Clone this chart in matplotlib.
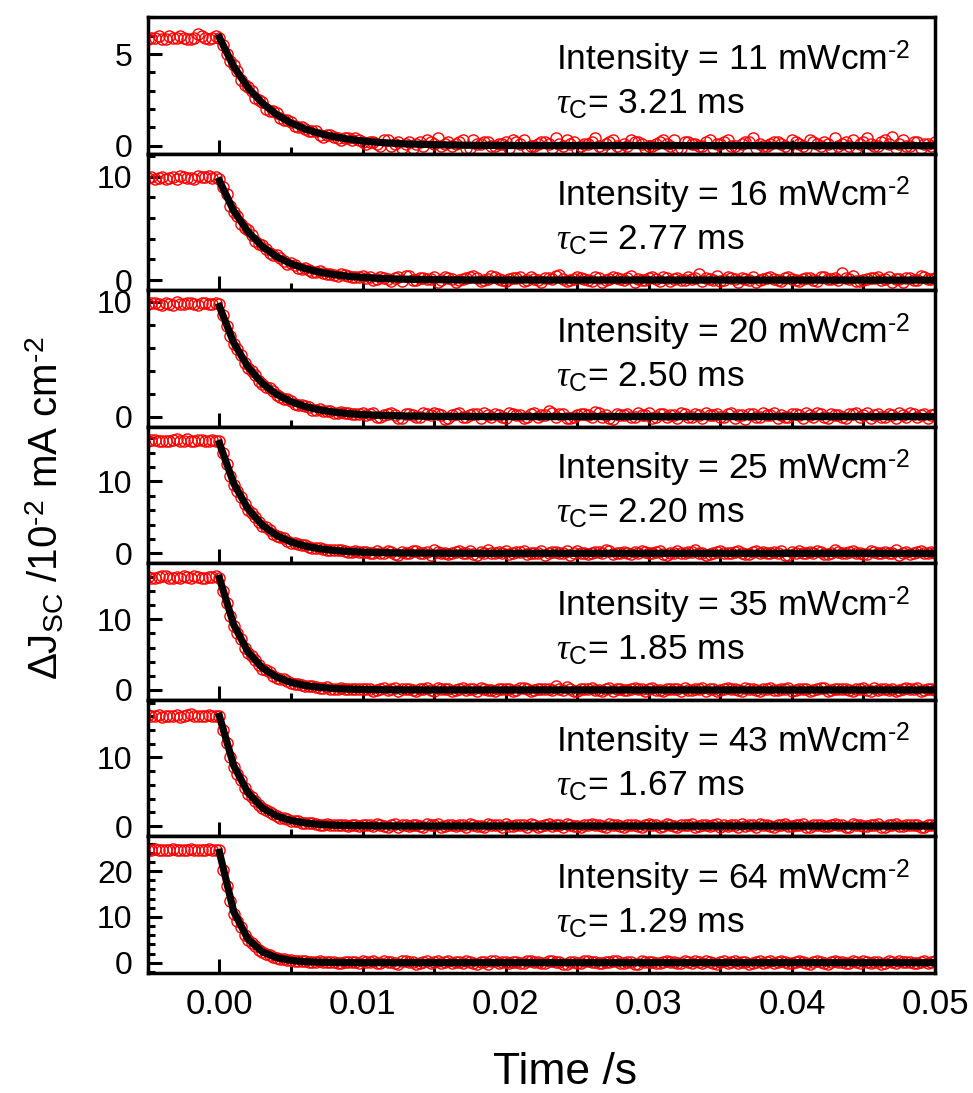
import numpy as np
import matplotlib
matplotlib.use('Agg')
import matplotlib.pyplot as plt
from matplotlib.ticker import MultipleLocator, FixedLocator

plt.rcParams['font.family'] = ['Liberation Sans', 'DejaVu Sans']
plt.rcParams['mathtext.fontset'] = 'custom'
plt.rcParams['mathtext.rm'] = 'Liberation Sans'
plt.rcParams['mathtext.it'] = 'Liberation Serif:italic'

# time grid of the measured transients (s): main samples and in-between samples
t = np.linspace(-0.005, 0.05, 111)
t_mid = t[:-1] + 0.00025
# time grid of the fitted curves (s)
t_fit = np.append(np.linspace(0, 0.02, 21), 0.05)

intensity = [11, 16, 20, 25, 35, 43, 64]
tau_c = ['3.21', '2.77', '2.50', '2.20', '1.85', '1.67', '1.29']

# measured dJsc, 10^-2 mA cm^-2, at t
j1 = [5.8, 5.9, 5.8, 6.0, 5.9, 5.9, 5.8, 6.1, 5.9, 5.9,
      5.9, 5.0, 4.4, 3.6, 3.2, 2.6, 2.4, 1.9, 1.8, 1.4, 1.3, 1.0, 0.9, 0.8, 0.6, 0.6, 0.5, 0.3, 0.4, 0.4, 0.2,
      0.2, 0.1, 0.3, 0.0, 0.2, 0.1, -0.1, 0.2, 0.3, 0.1, 0.0, 0.2, 0.1, 0.3, -0.1, 0.1, 0.2, 0.0, 0.1, 0.2,
      0.3, 0.1, -0.1, 0.0, 0.2, 0.1, 0.4, 0.0, 0.1, -0.2, 0.1, 0.2, 0.0, 0.1, 0.3, -0.1, 0.0, 0.2, 0.1, 0.0,
      0.1, 0.3, 0.0, -0.1, 0.2, 0.1, 0.0, 0.2, -0.1, 0.1, 0.3, 0.0, 0.1, 0.2, -0.1, 0.0, 0.1, 0.2, 0.0, 0.3,
      0.1, -0.1, 0.2, 0.0, 0.1, 0.4, 0.1, 0.0, -0.1, 0.2, 0.1, 0.0, 0.3, 0.5, 0.1, 0.0, 0.2, -0.1, 0.1, 0.2]
j2 = [9.9, 9.8, 10.0, 9.9, 9.8, 10.0, 9.9, 10.1, 10.0, 9.9,
      9.8, 8.3, 6.6, 5.4, 4.8, 3.8, 3.4, 2.6, 2.4, 1.8, 1.7, 1.2, 1.2, 0.8, 0.9, 0.6, 0.5, 0.6, 0.4, 0.3, 0.4,
      0.3, 0.1, 0.2, -0.1, 0.3, 0.4, 0.0, 0.2, 0.1, 0.3, 0.0, 0.2, -0.2, 0.1, 0.3, 0.2, 0.0, 0.4, 0.1, -0.1,
      0.2, 0.3, 0.0, 0.1, -0.2, 0.2, 0.4, 0.1, 0.0, 0.3, 0.1, -0.1, 0.2, 0.0, 0.3, 0.1, 0.2, -0.2, 0.0, 0.2,
      0.1, 0.3, -0.1, 0.2, 0.0, 0.1, 0.6, 0.2, 0.0, -0.1, 0.3, 0.1, 0.2, 0.0, -0.2, 0.1, 0.3, 0.0, 0.2, 0.1,
      -0.1, 0.2, 0.0, 0.3, 0.1, 0.2, 0.7, 0.1, -0.1, 0.0, 0.2, 0.3, 0.1, -0.2, 0.1, 0.2, 0.0, 0.4, 0.1, 0.2]
j3 = [9.8, 9.9, 9.7, 9.8, 10.0, 9.8, 9.9, 9.7, 9.9, 9.8,
      9.8, 7.9, 6.3, 5.4, 4.2, 3.6, 2.8, 2.5, 1.9, 1.5, 1.4, 1.0, 0.9, 0.6, 0.7, 0.5, 0.3, 0.4, 0.3, 0.2, 0.3,
      0.2, 0.0, 0.1, 0.3, -0.1, 0.2, 0.1, 0.0, 0.2, 0.3, 0.1, -0.1, 0.2, 0.0, 0.1, 0.2, 0.3, 0.0, 0.1, -0.1,
      0.2, 0.1, 0.0, 0.3, 0.1, 0.5, 0.0, 0.2, -0.1, 0.1, 0.2, 0.0, 0.3, 0.1, -0.2, 0.1, 0.2, 0.0, 0.1, 0.3,
      0.0, 0.2, 0.1, -0.1, 0.2, 0.0, 0.1, 0.3, 0.1, 0.0, 0.2, -0.1, 0.1, 0.2, 0.0, 0.3, 0.1, -0.1, 0.0, 0.2,
      0.1, 0.3, 0.0, 0.2, -0.1, 0.1, 0.0, 0.2, 0.3, 0.1, -0.1, 0.2, 0.0, 0.1, 0.3, 0.0, 0.2, 0.1, -0.1, 0.2]
j4 = [15.7, 15.8, 15.6, 15.7, 15.9, 15.7, 15.6, 15.8, 15.7, 15.8,
      15.6, 12.4, 9.5, 7.9, 6.0, 5.1, 3.8, 3.3, 2.4, 2.1, 1.5, 1.3, 1.1, 0.7, 0.8, 0.5, 0.4, 0.5, 0.2, 0.3, 0.2,
      0.1, 0.3, 0.0, 0.2, -0.2, 0.1, 0.3, 0.0, 0.2, 0.4, 0.0, -0.1, 0.2, 0.1, 0.3, -0.2, 0.1, 0.0, 0.2, 0.3,
      0.0, 0.2, -0.1, 0.1, 0.3, 0.0, 0.2, 0.1, -0.2, 0.3, 0.1, 0.0, 0.2, 0.4, -0.1, 0.1, 0.0, 0.2, 0.3, 0.0,
      0.2, -0.1, 0.1, 0.3, 0.0, 0.2, 0.1, -0.2, 0.1, 0.3, 0.0, 0.2, 0.1, -0.1, 0.3, 0.2, 0.0, 0.1, -0.2, 0.2,
      0.3, 0.0, 0.1, 0.2, -0.1, 0.4, 0.0, 0.2, 0.1, -0.1, 0.3, 0.0, 0.2, 0.1, -0.2, 0.2, 0.0, 0.3, 0.1, 0.0]
j5 = [16.0, 15.9, 16.1, 15.8, 16.0, 16.1, 15.9, 16.0, 15.8, 16.0,
      15.9, 12.3, 9.0, 7.2, 5.2, 4.2, 3.0, 2.5, 1.7, 1.5, 1.0, 0.9, 0.5, 0.6, 0.3, 0.4, 0.2, 0.3, 0.1, 0.2, 0.1,
      0.2, 0.0, 0.3, 0.1, -0.1, 0.2, 0.0, 0.1, 0.3, -0.2, 0.1, 0.2, 0.0, 0.3, 0.1, -0.1, 0.2, 0.0, 0.1, 0.2,
      -0.1, 0.3, 0.1, 0.0, 0.2, 0.1, 0.5, 0.0, 0.2, -0.1, 0.1, 0.3, 0.0, 0.2, -0.2, 0.1, 0.0, 0.3, 0.1, 0.2,
      0.0, -0.1, 0.2, 0.1, 0.3, 0.0, 0.1, -0.2, 0.2, 0.0, 0.3, 0.1, -0.1, 0.2, 0.0, 0.1, 0.3, 0.0, 0.2, -0.1,
      0.1, 0.2, 0.0, 0.3, -0.1, 0.1, 0.2, 0.0, 0.1, 0.3, -0.2, 0.0, 0.2, 0.1, 0.0, 0.3, 0.1, -0.1, 0.2, 0.0]
j6 = [16.2, 16.0, 15.9, 16.1, 16.2, 16.0, 16.3, 16.1, 16.0, 16.1,
      16.0, 12.1, 8.6, 6.7, 4.7, 3.7, 2.6, 2.1, 1.4, 1.2, 0.7, 0.7, 0.4, 0.4, 0.2, 0.3, 0.1, 0.2, 0.0, 0.1, 0.2,
      0.1, 0.3, 0.0, 0.2, -0.1, 0.1, 0.2, 0.0, 0.3, 0.1, -0.2, 0.2, 0.0, 0.1, 0.3, 0.0, -0.1, 0.2, 0.1, 0.3,
      0.0, 0.2, -0.1, 0.1, 0.0, 0.3, 0.2, -0.2, 0.1, 0.0, 0.2, 0.3, 0.1, -0.1, 0.2, 0.0, 0.1, 0.2, -0.1, 0.3,
      0.1, 0.0, 0.2, -0.2, 0.1, 0.3, 0.0, 0.2, 0.1, -0.1, 0.0, 0.2, 0.3, 0.1, -0.1, 0.2, 0.0, 0.1, 0.3, 0.0,
      0.2, -0.1, 0.1, 0.2, 0.0, 0.3, 0.1, -0.2, 0.2, 0.0, 0.1, 0.3, -0.1, 0.2, 0.0, 0.1, 0.2, -0.1, 0.1, 0.2]
j7 = [24.6, 24.8, 24.5, 24.7, 24.6, 24.5, 24.8, 24.6, 24.7, 24.5,
      24.6, 16.8, 10.7, 7.8, 5.0, 3.6, 2.3, 1.7, 1.0, 0.8, 0.6, 0.3, 0.4, 0.2, 0.3, 0.1, 0.2, 0.0, 0.2, 0.1, 0.3,
      0.2, 0.0, 0.4, 0.1, -0.2, 0.3, 0.1, 0.0, 0.3, 0.2, -0.1, 0.4, 0.1, 0.0, 0.2, -0.3, 0.1, 0.3, 0.0, 0.2,
      0.1, -0.1, 0.3, 0.2, 0.0, 0.4, 0.1, -0.2, 0.2, 0.0, 0.3, 0.1, -0.1, 0.2, 0.4, 0.0, 0.1, -0.2, 0.3, 0.1,
      0.0, 0.2, 0.1, -0.1, 0.3, 0.0, 0.2, 0.4, -0.1, 0.1, 0.0, 0.3, 0.2, -0.2, 0.1, 0.0, 0.3, 0.1, 0.2, -0.1,
      0.3, 0.0, 0.1, 0.2, -0.2, 0.4, 0.1, 0.0, 0.2, 0.3, -0.1, 0.1, 0.0, 0.2, 0.3, 0.1, -0.1, 0.2, 0.0, 0.3]

# measured dJsc at t_mid
m1 = [5.9, 6.0, 5.8, 5.9, 6.0, 5.8, 5.9, 6.0, 5.8, 6.0,
      5.5, 4.6, 4.1, 3.3, 3.0, 2.5, 2.0, 1.9, 1.5, 1.4, 1.1, 1.0, 0.8, 0.8, 0.5, 0.6, 0.4, 0.4, 0.3, 0.3,
      0.1, 0.2, 0.0, 0.3, 0.1, -0.1, 0.2, 0.1, 0.0, 0.2, 0.4, 0.1, 0.0, 0.2, -0.1, 0.3, 0.1, 0.2, 0.0, 0.1,
      -0.1, 0.2, 0.3, 0.0, 0.1, 0.2, -0.1, 0.1, 0.3, 0.2, 0.0, 0.1, 0.4, -0.1, 0.2, 0.0, 0.1, 0.3, 0.2, -0.1,
      0.0, 0.2, 0.1, 0.3, -0.1, 0.2, 0.1, 0.0, 0.3, 0.1, 0.2, 0.0, -0.1, 0.2, 0.4, 0.1, 0.0, 0.2, 0.1, -0.1,
      0.2, 0.0, 0.3, 0.1, 0.2, -0.1, 0.0, 0.2, 0.3, 0.1, 0.4, 0.0, 0.2, 0.1, -0.1, 0.3, 0.0, 0.2, 0.1, 0.0]
m2 = [10.0, 9.9, 9.8, 10.0, 10.1, 9.9, 9.8, 10.0, 10.1, 10.0,
      9.0, 7.2, 6.2, 5.0, 4.4, 3.5, 3.0, 2.4, 2.1, 1.6, 1.5, 1.1, 1.0, 0.8, 0.7, 0.6, 0.4, 0.5, 0.3, 0.3,
      0.2, 0.0, 0.3, 0.1, 0.2, -0.1, 0.4, 0.0, 0.2, 0.1, -0.2, 0.3, 0.1, 0.0, 0.2, 0.4, -0.1, 0.1, 0.3, 0.0,
      0.1, 0.2, -0.1, 0.3, 0.0, 0.2, 0.1, 0.5, -0.1, 0.1, 0.2, 0.0, 0.3, -0.2, 0.1, 0.2, 0.0, 0.4, 0.1, 0.0,
      0.3, -0.1, 0.2, 0.1, 0.0, 0.3, 0.2, -0.1, 0.1, 0.4, 0.0, 0.2, -0.2, 0.1, 0.3, 0.0, 0.2, 0.1, -0.1, 0.3,
      0.0, 0.1, 0.2, -0.1, 0.3, 0.1, 0.0, 0.2, 0.4, -0.1, 0.1, 0.2, 0.0, 0.3, 0.1, -0.2, 0.2, 0.0, 0.3, 0.1]
m3 = [9.9, 9.8, 9.9, 9.7, 9.8, 9.9, 9.8, 9.9, 9.8, 9.9,
      8.9, 7.0, 5.9, 4.7, 4.0, 3.1, 2.6, 2.2, 1.7, 1.5, 1.1, 1.0, 0.8, 0.6, 0.5, 0.5, 0.3, 0.3, 0.2, 0.2,
      0.1, 0.3, 0.0, 0.2, 0.1, -0.1, 0.2, 0.0, 0.3, 0.1, 0.2, -0.2, 0.1, 0.3, 0.0, 0.2, -0.1, 0.1, 0.2, 0.0,
      0.3, 0.1, -0.1, 0.2, 0.0, 0.1, 0.3, 0.2, -0.1, 0.0, 0.2, 0.1, 0.4, 0.0, -0.1, 0.2, 0.1, 0.0, 0.3, 0.1,
      -0.1, 0.2, 0.0, 0.1, 0.3, 0.0, 0.2, -0.1, 0.1, 0.2, 0.0, 0.3, 0.1, -0.2, 0.2, 0.0, 0.1, 0.3, 0.1, 0.0,
      0.2, -0.1, 0.1, 0.3, 0.0, 0.2, 0.1, -0.1, 0.2, 0.0, 0.3, 0.1, 0.0, 0.2, -0.1, 0.1, 0.3, 0.0, 0.2, 0.1]
m4 = [15.8, 15.7, 15.6, 15.8, 15.7, 15.9, 15.7, 15.8, 15.6, 15.7,
      13.9, 10.8, 8.7, 6.8, 5.6, 4.3, 3.6, 2.7, 2.3, 1.7, 1.4, 1.2, 0.9, 0.7, 0.6, 0.4, 0.4, 0.3, 0.2, 0.2,
      0.2, 0.0, 0.1, 0.3, -0.1, 0.2, 0.0, 0.3, 0.1, -0.2, 0.2, 0.0, 0.1, 0.3, 0.1, -0.1, 0.2, 0.4, 0.0, 0.1,
      -0.1, 0.2, 0.3, 0.0, 0.1, -0.2, 0.2, 0.1, 0.3, 0.0, 0.1, -0.1, 0.2, 0.0, 0.3, 0.1, 0.2, -0.1, 0.0, 0.2,
      0.1, 0.3, -0.2, 0.1, 0.0, 0.2, 0.4, 0.1, -0.1, 0.2, 0.0, 0.1, 0.3, -0.1, 0.2, 0.0, 0.1, 0.2, 0.3, -0.2,
      0.1, 0.0, 0.2, 0.3, -0.1, 0.1, 0.2, 0.0, 0.3, 0.1, -0.1, 0.2, 0.0, 0.1, 0.4, 0.0, -0.1, 0.2, 0.1, 0.2]
m5 = [15.9, 16.0, 16.1, 15.9, 15.8, 16.0, 16.1, 15.9, 16.0, 16.1,
      14.0, 10.4, 8.1, 6.0, 4.8, 3.5, 2.8, 2.0, 1.6, 1.2, 0.9, 0.7, 0.5, 0.4, 0.3, 0.2, 0.2, 0.1, 0.1, 0.1,
      0.1, -0.1, 0.2, 0.0, 0.3, 0.1, 0.2, -0.2, 0.1, 0.0, 0.3, 0.2, -0.1, 0.1, 0.0, 0.2, 0.3, 0.0, -0.1, 0.2,
      0.1, 0.0, 0.3, -0.1, 0.2, 0.1, 0.0, 0.2, 0.4, -0.1, 0.1, 0.2, 0.0, -0.2, 0.3, 0.1, 0.0, 0.2, 0.1, -0.1,
      0.3, 0.0, 0.2, 0.1, -0.1, 0.0, 0.2, 0.3, 0.1, -0.2, 0.1, 0.2, 0.0, 0.3, 0.1, -0.1, 0.2, 0.0, 0.1, 0.3,
      0.0, 0.2, -0.1, 0.1, 0.3, 0.0, 0.2, 0.1, -0.1, 0.2, 0.0, 0.3, 0.1, 0.0, -0.2, 0.2, 0.1, 0.3, 0.0, 0.1]
m6 = [16.1, 16.2, 16.0, 16.1, 15.9, 16.2, 16.1, 16.0, 16.2, 16.1,
      14.0, 10.1, 7.6, 5.5, 4.2, 3.0, 2.3, 1.7, 1.2, 1.0, 0.7, 0.5, 0.4, 0.3, 0.2, 0.2, 0.1, 0.1, 0.1, 0.0,
      0.2, 0.0, 0.1, -0.1, 0.3, 0.1, 0.0, 0.2, -0.2, 0.1, 0.3, 0.0, 0.2, 0.1, -0.1, 0.2, 0.0, 0.3, 0.1, -0.1,
      0.0, 0.2, 0.1, 0.3, -0.1, 0.2, 0.0, 0.1, 0.3, 0.0, -0.2, 0.2, 0.1, 0.0, 0.3, 0.1, -0.1, 0.2, 0.0, 0.1,
      0.2, -0.1, 0.3, 0.0, 0.1, 0.2, -0.2, 0.1, 0.0, 0.3, 0.1, 0.2, -0.1, 0.0, 0.2, 0.3, 0.1, -0.1, 0.2, 0.0,
      0.1, 0.3, -0.1, 0.2, 0.0, 0.1, 0.2, -0.2, 0.3, 0.1, 0.0, 0.2, -0.1, 0.1, 0.3, 0.0, 0.2, 0.1, -0.1, 0.2]
m7 = [24.7, 24.5, 24.6, 24.8, 24.6, 24.7, 24.5, 24.6, 24.8, 24.6,
      20.3, 13.4, 9.2, 6.1, 4.3, 2.8, 2.0, 1.3, 0.9, 0.6, 0.4, 0.3, 0.2, 0.2, 0.1, 0.1, 0.0, 0.1, 0.2, 0.0,
      0.1, 0.3, -0.1, 0.2, 0.0, 0.4, 0.1, -0.2, 0.2, 0.0, 0.3, 0.1, -0.1, 0.2, 0.4, 0.0, 0.1, -0.2, 0.3, 0.1,
      0.0, 0.2, -0.1, 0.3, 0.1, 0.0, 0.4, 0.2, -0.2, 0.1, 0.0, 0.3, 0.2, -0.1, 0.1, 0.3, 0.0, 0.2, -0.3, 0.1,
      0.2, 0.0, 0.3, 0.1, -0.1, 0.2, 0.4, 0.0, 0.1, -0.2, 0.3, 0.1, 0.0, 0.2, -0.1, 0.3, 0.1, 0.0, 0.4, -0.1,
      0.2, 0.1, -0.2, 0.3, 0.0, 0.2, 0.1, -0.1, 0.4, 0.0, 0.2, 0.1, -0.2, 0.3, 0.0, 0.1, 0.2, -0.1, 0.3, 0.1]

# fitted exponential decays, read at t_fit
f1 = [5.9, 4.32, 3.16, 2.32, 1.70, 1.24, 0.91, 0.67, 0.49, 0.36, 0.26,
      0.19, 0.14, 0.10, 0.08, 0.06, 0.04, 0.03, 0.02, 0.02, 0.01, 0.0]
f2 = [9.6, 6.69, 4.66, 3.25, 2.26, 1.58, 1.10, 0.77, 0.53, 0.37, 0.26,
      0.18, 0.13, 0.09, 0.06, 0.04, 0.03, 0.02, 0.01, 0.01, 0.01, 0.0]
f3 = [9.6, 6.43, 4.31, 2.89, 1.94, 1.30, 0.87, 0.58, 0.39, 0.26, 0.17,
      0.12, 0.08, 0.05, 0.04, 0.02, 0.02, 0.01, 0.01, 0.0, 0.0, 0.0]
f4 = [15.3, 9.71, 6.17, 3.91, 2.48, 1.58, 1.00, 0.64, 0.40, 0.26, 0.16,
      0.10, 0.07, 0.04, 0.03, 0.02, 0.01, 0.01, 0.0, 0.0, 0.0, 0.0]
f5 = [15.8, 9.20, 5.36, 3.12, 1.82, 1.06, 0.62, 0.36, 0.21, 0.12, 0.07,
      0.04, 0.02, 0.01, 0.01, 0.0, 0.0, 0.0, 0.0, 0.0, 0.0, 0.0]
f6 = [16.0, 8.79, 4.83, 2.65, 1.46, 0.80, 0.44, 0.24, 0.13, 0.07, 0.04,
      0.02, 0.01, 0.0, 0.0, 0.0, 0.0, 0.0, 0.0, 0.0, 0.0, 0.0]
f7 = [24.1, 11.10, 5.11, 2.36, 1.09, 0.50, 0.23, 0.11, 0.05, 0.02, 0.01,
      0.0, 0.0, 0.0, 0.0, 0.0, 0.0, 0.0, 0.0, 0.0, 0.0, 0.0]

data = [j1, j2, j3, j4, j5, j6, j7]
data_mid = [m1, m2, m3, m4, m5, m6, m7]
fits = [f1, f2, f3, f4, f5, f6, f7]

ylims = [(-0.45, 7.0), (-1.0, 12.2), (-0.9, 11.0), (-1.4, 17.6),
         (-1.4, 17.9), (-1.5, 18.4), (-2.2, 27.6)]
yticks = [[0, 5], [0, 10], [0, 10], [0, 10], [0, 10], [0, 10], [0, 10, 20]]
yminor = [1, 2, 2, 2, 2, 2, 2]

HY = '\u2010'  # short hyphen used in the superscripts

fig, axes = plt.subplots(7, 1, sharex=True, figsize=(9.73, 10.93), dpi=100,
                         gridspec_kw=dict(hspace=0))
fig.subplots_adjust(left=0.152, right=0.961, top=0.984, bottom=0.110)

for i, ax in enumerate(axes):
    tt = np.concatenate([t, t_mid])
    jj = np.concatenate([data[i], data_mid[i]])
    ax.plot(tt, jj, 'o', mfc='none', mec='red', ms=8, mew=1.0, zorder=2)
    ax.plot(t_fit, fits[i], '-', color='black', lw=5.2, zorder=3)
    ax.set_xlim(-0.005, 0.05)
    ax.set_ylim(*ylims[i])
    ax.yaxis.set_major_locator(FixedLocator(yticks[i]))
    ax.yaxis.set_minor_locator(MultipleLocator(yminor[i]))
    ax.xaxis.set_major_locator(MultipleLocator(0.01))
    ax.xaxis.set_minor_locator(MultipleLocator(0.005))
    for s in ax.spines.values():
        s.set_linewidth(2.5)
    ax.tick_params(which='both', direction='in', width=2.2, top=False, right=False)
    ax.tick_params(which='major', length=10)
    ax.tick_params(which='minor', length=5)
    ax.tick_params(axis='y', pad=11, labelsize=23)
    ax.tick_params(axis='x', pad=11, labelsize=25)
    ax.text(0.518, 0.61, 'Intensity = %d mWcm$^{\\rm %s2}$' % (intensity[i], HY),
            transform=ax.transAxes, fontsize=25.5, ha='left', va='baseline')
    ax.text(0.518, 0.295, '$\\tau_{\\rm C}$= %s ms' % tau_c[i],
            transform=ax.transAxes, fontsize=25.5, ha='left', va='baseline')

axes[-1].xaxis.set_major_formatter(plt.FormatStrFormatter('%.2f'))

fig.text(0.046, 0.535, 'ΔJ$_{\\rm SC}$ /10$^{\\rm %s2}$ mA cm$^{\\rm %s2}$' % (HY, HY),
         rotation=90, fontsize=29, ha='center', va='center')
fig.text(0.581, 0.008, 'Time /s', fontsize=32, ha='center', va='baseline')

fig.savefig('out.png', dpi=100)
